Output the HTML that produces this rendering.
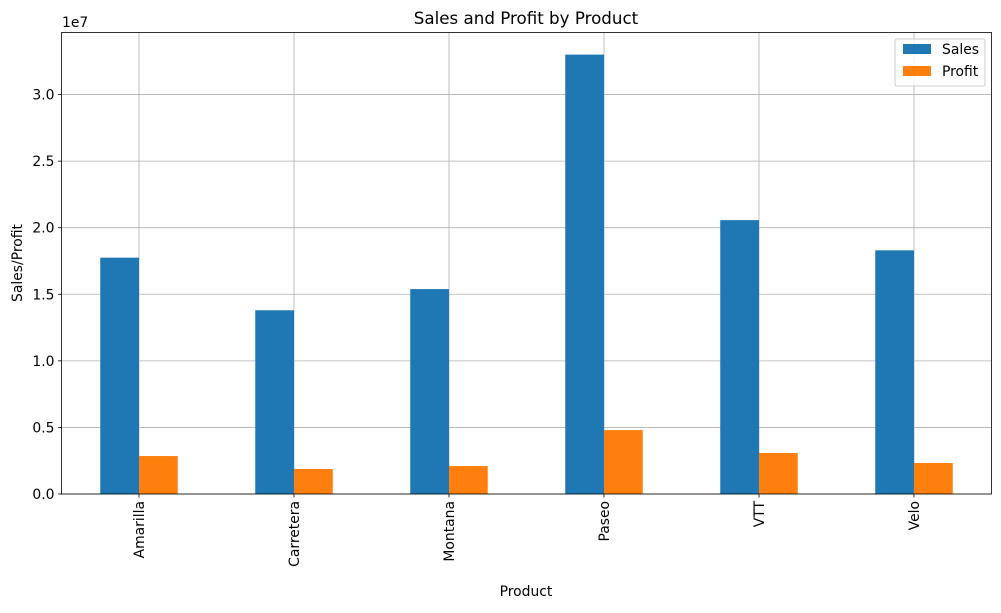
<!DOCTYPE html>
<html><head><meta charset="utf-8"><style>
body{margin:0;background:#fff;font-family:"Liberation Sans","DejaVu Sans",sans-serif;}
svg text{font-family:"DejaVu Sans","Liberation Sans",sans-serif;fill:#000;}
</style></head><body>
<svg id="c" width="1001" height="608" xmlns="http://www.w3.org/2000/svg"></svg>
<script>
const categories=["Amarilla","Carretera","Montana","Paseo","VTT","Velo"];
const sales=[17.75,13.8,15.39,33.0,20.57,18.3];
const profit=[2.85,1.88,2.1,4.8,3.08,2.33];
const yTicks=[0,0.5,1.0,1.5,2.0,2.5,3.0];
const yTickLabels=["0.0","0.5","1.0","1.5","2.0","2.5","3.0"];
const L=61.5,R=991.5,T=32.5,B=494,YMAX=3.466;
const NS="http://www.w3.org/2000/svg";
const svg=document.getElementById('c');
function y(v){return B-(v/10)/YMAX*(B-T);}
function yt(v){return B-v/YMAX*(B-T);}
function x(i){return L+(i+0.5)*(R-L)/categories.length;}
const bw=(R-L)/categories.length*0.25;
function el(t,a,txt){const e=document.createElementNS(NS,t);for(const k in a)e.setAttribute(k,a[k]);if(txt!==undefined)e.textContent=txt;svg.appendChild(e);return e;}
yTicks.forEach((v,i)=>{
  const g=el('line',{x1:L,x2:R,y1:yt(v),y2:yt(v),stroke:'#b0b0b0','stroke-width':0.8});
  
  
  const tk=el('line',{x1:L-3.5,x2:L,y1:yt(v),y2:yt(v),stroke:'#000','stroke-width':0.8});
  
  
  const lb=el('text',{x:L-7,y:yt(v)+5,'text-anchor':'end','font-size':13.9},yTickLabels[i]);
  
  
});
categories.forEach((c,i)=>{
  const g=el('line',{x1:x(i),x2:x(i),y1:T,y2:B,stroke:'#b0b0b0','stroke-width':0.8});
  
  
});
categories.forEach((c,i)=>{
  const s=el('rect',{x:x(i)-bw,y:y(sales[i]),width:bw,height:B-y(sales[i]),fill:'#1f77b4'});
  
  
  const p=el('rect',{x:x(i),y:y(profit[i]),width:bw,height:B-y(profit[i]),fill:'#ff7f0e'});
  
  
  const tk=el('line',{x1:x(i),x2:x(i),y1:B,y2:B+3.5,stroke:'#000','stroke-width':0.8});
  
  
  const lb=el('text',{x:0,y:0,'text-anchor':'end','font-size':13.9,transform:`translate(${x(i)+5},${B+7}) rotate(-90)`},c);
  
  
});
const fr=el('rect',{x:L,y:T,width:R-L,height:B-T,fill:'none',stroke:'#000','stroke-width':0.8});


</script>
<svg width="1001" height="608" style="position:absolute;left:0;top:0" xmlns="http://www.w3.org/2000/svg">
<text x="526" y="24" text-anchor="middle" font-size="16.7">Sales and Profit by Product</text>
<text x="62" y="27" font-size="13.9">1e7</text>
<text x="526" y="596" text-anchor="middle" font-size="13.9">Product</text>
<text transform="translate(22,263) rotate(-90)" text-anchor="middle" font-size="13.9">Sales/Profit</text>
<g>
<rect x="895" y="39" width="90" height="47" fill="#fff" fill-opacity="0.8" stroke="#ccc" rx="2"/>
<rect x="903" y="44" width="28" height="10" fill="#1f77b4"/>
<text x="942" y="54" font-size="13.9">Sales</text>
<rect x="903" y="66" width="28" height="10" fill="#ff7f0e"/>
<text x="942" y="76" font-size="13.9">Profit</text>
</g>
</svg>
</body></html>
